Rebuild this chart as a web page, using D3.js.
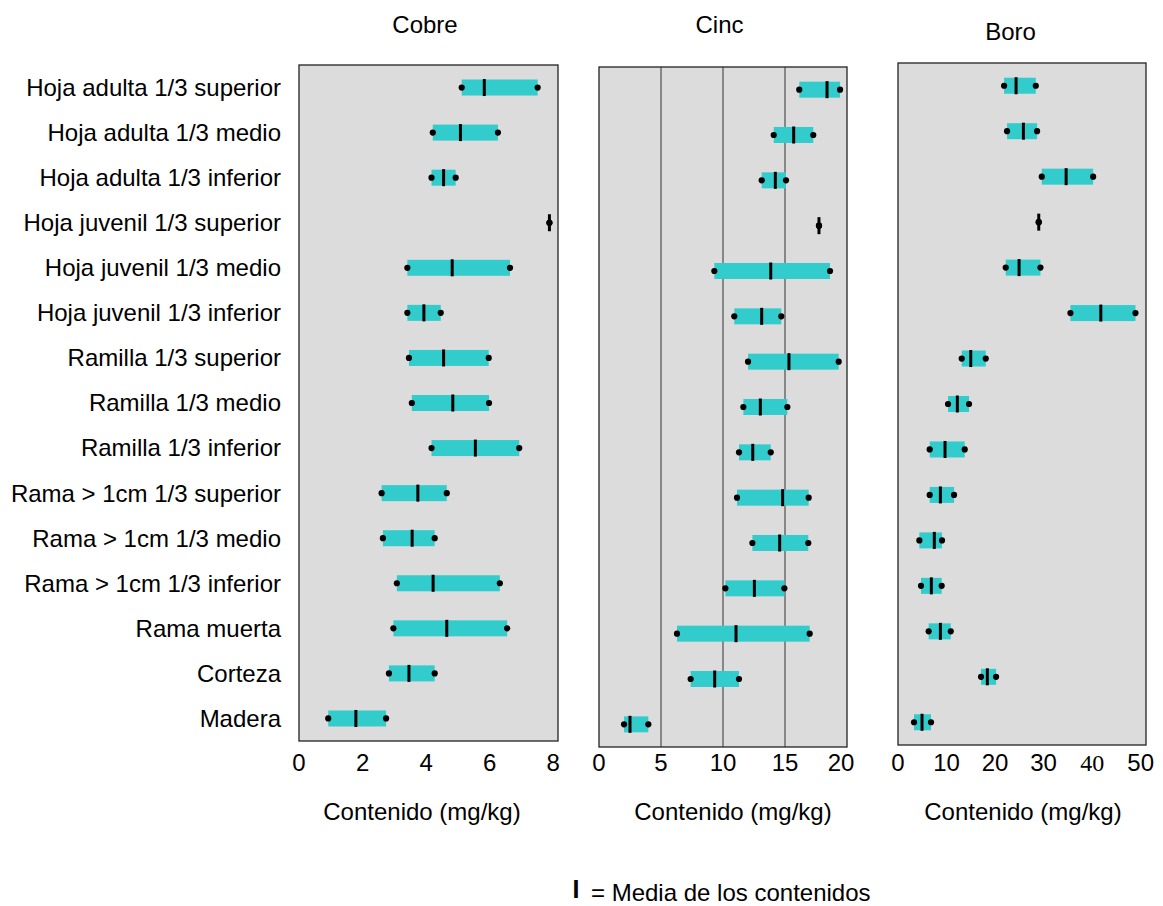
<!DOCTYPE html>
<html>
<head>
<meta charset="utf-8">
<script src="https://cdn.jsdelivr.net/npm/d3@7"></script>
<style>
  html, body { margin: 0; padding: 0; background: #ffffff; }
  svg { display: block; font-family: "Liberation Sans", Arial, sans-serif; }
</style>
</head>
<body>
<svg id="chart" width="1163" height="906"></svg>
<script>
// Plant parts sampled
const categories = [
  "Hoja adulta 1/3 superior",
  "Hoja adulta 1/3 medio",
  "Hoja adulta 1/3 inferior",
  "Hoja juvenil 1/3 superior",
  "Hoja juvenil 1/3 medio",
  "Hoja juvenil 1/3 inferior",
  "Ramilla 1/3 superior",
  "Ramilla 1/3 medio",
  "Ramilla 1/3 inferior",
  "Rama > 1cm 1/3 superior",
  "Rama > 1cm 1/3 medio",
  "Rama > 1cm 1/3 inferior",
  "Rama muerta",
  "Corteza",
  "Madera"
];

// Copper content (mg/kg): minimum, mean, maximum
const cobreMin  = [5.12, 4.21, 4.17, 7.88, 3.41, 3.41, 3.46, 3.55, 4.17, 2.60, 2.64, 3.08, 2.97, 2.83, 0.92];
const cobreMean = [5.83, 5.08, 4.55, 7.88, 4.82, 3.93, 4.55, 4.84, 5.55, 3.74, 3.56, 4.22, 4.65, 3.46, 1.79];
const cobreMax  = [7.51, 6.26, 4.93, 7.88, 6.64, 4.46, 5.97, 5.98, 6.93, 4.65, 4.27, 6.32, 6.55, 4.27, 2.74];

// Zinc content (mg/kg)
const cincMin  = [16.15, 14.09, 13.12, 17.74, 9.30, 10.91, 12.02, 11.64, 11.29, 11.13, 12.37, 10.19, 6.29, 7.39, 2.02];
const cincMean = [18.39, 15.70, 14.22, 17.74, 13.85, 13.12, 15.32, 13.01, 12.40, 14.81, 14.57, 12.53, 11.05, 9.33, 2.50];
const cincMax  = [19.44, 17.28, 15.08, 17.74, 18.63, 14.70, 19.33, 15.19, 13.85, 16.91, 16.88, 14.95, 16.99, 11.29, 3.98];

// Boron content (mg/kg)
const boroMin  = [21.86, 22.47, 29.62, 29.00, 22.20, 35.53, 13.13, 10.31, 6.53, 6.53, 4.40, 4.74, 6.32, 17.11, 3.30];
const boroMean = [24.33, 25.84, 34.64, 29.00, 24.95, 41.79, 14.99, 12.23, 9.69, 8.73, 7.48, 6.87, 8.73, 18.41, 4.95];
const boroMax  = [28.39, 28.66, 40.21, 29.00, 29.35, 48.93, 18.08, 14.64, 13.75, 11.55, 9.07, 9.00, 10.87, 20.21, 6.80];

// Axis tick labels
const cobreTicks = [0, 2, 4, 6, 8];
const cincTicks  = [0, 5, 10, 15, 20];
const boroTicks  = [0, 10, 20, 30, 40, 50];
const cincGrid   = [5, 10, 15];

const axisTitle = "Contenido (mg/kg)";
const legendText = "= Media de los contenidos";

const svg = d3.select("#chart");
const barColor = "#33cccc";
const panelFill = "#dcdcdc";
const fontSize = 24;

// Panel layout
const panels = [
  { title: "Cobre", titleX: 425, titleY: 33, min: cobreMin, mean: cobreMean, max: cobreMax,
    ticks: cobreTicks, domain: [0, 8.15], x0: 299, x1: 558, y0: 65, y1: 741, grid: [],
    axisTitleX: 422, tickY: 771, serifTicks: [], lastShift: 0 },
  { title: "Cinc", titleX: 719.5, titleY: 33, min: cincMin, mean: cincMean, max: cincMax,
    ticks: cincTicks, domain: [0, 20], x0: 599, x1: 847, y0: 67, y1: 747, grid: cincGrid,
    axisTitleX: 733, tickY: 771, serifTicks: [], lastShift: -6 },
  { title: "Boro", titleX: 1010.5, titleY: 40, min: boroMin, mean: boroMean, max: boroMax,
    ticks: boroTicks, domain: [0, 51.1], x0: 898, x1: 1146, y0: 63, y1: 745, grid: [],
    axisTitleX: 1023, tickY: 771, serifTicks: [40], lastShift: 0 }
];

panels.forEach(p => {
  const x = d3.scaleLinear().domain(p.domain).range([p.x0, p.x1]);
  const y = d3.scaleBand().domain(categories).range([p.y0, p.y1]).padding(0);
  const cy = c => y(c) + y.bandwidth() / 2;

  const g = svg.append("g");

  g.append("text")
    .attr("x", p.titleX).attr("y", p.titleY)
    .attr("text-anchor", "middle")
    .attr("font-size", fontSize)
    .text(p.title);

  g.append("rect")
    .attr("x", p.x0).attr("y", p.y0)
    .attr("width", p.x1 - p.x0).attr("height", p.y1 - p.y0)
    .attr("fill", panelFill);

  g.selectAll("line.grid").data(p.grid).join("line")
    .attr("class", "grid")
    .attr("x1", d => x(d)).attr("x2", d => x(d))
    .attr("y1", p.y0).attr("y2", p.y1)
    .attr("stroke", "#333").attr("stroke-width", 1);

  const rows = categories.map((c, i) => ({ c, lo: p.min[i], mu: p.mean[i], hi: p.max[i] }));

  // Range bars
  g.selectAll("rect.range").data(rows).join("rect")
    .attr("class", "range")
    .attr("x", d => x(d.lo)).attr("width", d => x(d.hi) - x(d.lo))
    .attr("y", d => cy(d.c) - 8).attr("height", 16)
    .attr("fill", barColor);

  // Min / max dots
  const ends = rows.flatMap(d => [{ c: d.c, v: d.lo }, { c: d.c, v: d.hi }]);
  g.selectAll("circle.end").data(ends).join("circle")
    .attr("class", "end")
    .attr("cx", d => x(d.v)).attr("cy", d => cy(d.c))
    .attr("r", 3.1).attr("fill", "#000");

  // Mean marks
  g.selectAll("line.mean").data(rows).join("line")
    .attr("class", "mean")
    .attr("x1", d => x(d.mu)).attr("x2", d => x(d.mu))
    .attr("y1", d => cy(d.c) - 8.5).attr("y2", d => cy(d.c) + 8.5)
    .attr("stroke", "#000").attr("stroke-width", 3);

  g.append("rect")
    .attr("x", p.x0).attr("y", p.y0)
    .attr("width", p.x1 - p.x0).attr("height", p.y1 - p.y0)
    .attr("fill", "none").attr("stroke", "#222").attr("stroke-width", 1.3);

  // Tick labels
  const lastTick = p.ticks[p.ticks.length - 1];
  g.selectAll("text.tick").data(p.ticks).join("text")
    .attr("class", "tick")
    .attr("x", d => x(d) + (d === lastTick ? p.lastShift : 0)).attr("y", p.tickY)
    .attr("text-anchor", "middle")
    .attr("font-size", fontSize)
    .attr("font-family", d => p.serifTicks.includes(d) ? "'Liberation Serif', 'Times New Roman', serif" : null)
    .text(d => d);

  g.append("text")
    .attr("x", p.axisTitleX).attr("y", 820)
    .attr("text-anchor", "middle")
    .attr("font-size", fontSize)
    .text(axisTitle);
});

// Category labels
const yLab = d3.scaleBand().domain(categories).range([65, 741]).padding(0);
svg.append("g").selectAll("text").data(categories).join("text")
  .attr("x", 281)
  .attr("y", d => yLab(d) + yLab.bandwidth() / 2)
  .attr("dy", "0.35em")
  .attr("text-anchor", "end")
  .attr("font-size", fontSize)
  .text(d => d);

// Legend
svg.append("text")
  .attr("x", 576).attr("y", 898)
  .attr("text-anchor", "middle")
  .attr("font-size", 25).attr("font-weight", "bold")
  .text("I");
svg.append("text")
  .attr("x", 591).attr("y", 901)
  .attr("font-size", fontSize)
  .text(legendText);
</script>
</body>
</html>
